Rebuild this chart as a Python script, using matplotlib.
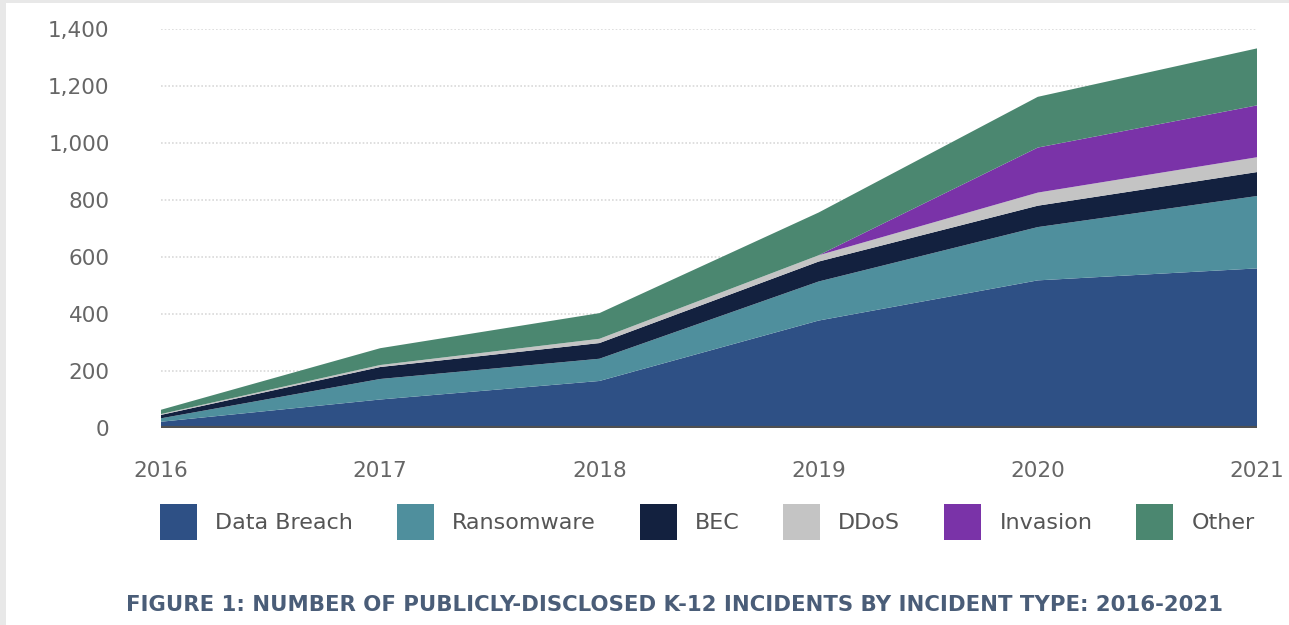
import matplotlib.pyplot as plt
from matplotlib.patches import Rectangle

years = [2016, 2017, 2018, 2019, 2020, 2021]
data_breach = [22, 100, 165, 377, 518, 560]
ransomware = [12, 72, 78, 137, 187, 254]
bec = [12, 42, 55, 70, 75, 84]
ddos = [3, 7, 15, 22, 46, 52]
invasion = [0, 0, 0, 0, 158, 182]
other = [15, 59, 90, 150, 178, 200]

labels = ["Data Breach", "Ransomware", "BEC", "DDoS", "Invasion", "Other"]
colors = ["#2e5085", "#4f8f9d", "#13213f", "#c4c4c4", "#7a33a8", "#4b8770"]
yticks = [0, 200, 400, 600, 800, 1000, 1200, 1400]

W, H = 1289, 625
fig = plt.figure(figsize=(W / 100, H / 100), dpi=100)
ax = fig.add_axes([161 / W, 1 - 428 / H, (1257 - 161) / W, (428 - 29) / H])

# light grey edge on the left and top, as in the source screenshot
fig.patches.append(Rectangle((0, 0), 6 / W, 1, transform=fig.transFigure,
                             facecolor="#e8e8e8", edgecolor="none"))
fig.patches.append(Rectangle((0, 1 - 3 / H), 1, 3 / H, transform=fig.transFigure,
                             facecolor="#e8e8e8", edgecolor="none"))

for y in yticks[1:]:
    ax.axhline(y, color="#d9d9d9", linewidth=1.2, linestyle=(0, (1, 1.2)), zorder=0)

polys = ax.stackplot(years, data_breach, ransomware, bec, ddos, invasion, other,
                     colors=colors, labels=labels, linewidth=0, zorder=2)
ax.axhline(0, color="#505050", linewidth=3, solid_capstyle="round", zorder=3)

ax.set_xlim(2016, 2021)
ax.set_ylim(0, 1400)
ax.set_xticks(years)
ax.set_xticklabels([str(y) for y in years])
ax.set_yticks(yticks)
ax.set_yticklabels([f"{v:,}" for v in yticks])
ax.tick_params(axis="both", length=0, labelsize=15.5, labelcolor="#666666")
ax.tick_params(axis="x", pad=24)
ax.tick_params(axis="y", pad=37)
for s in ax.spines.values():
    s.set_visible(False)

fs = 16
fpx = fs * 100 / 72
leg = fig.legend(polys, labels, loc="center left", bbox_to_anchor=(160 / W, 1 - 522 / H),
                 ncol=6, frameon=False, fontsize=fs, borderpad=0, borderaxespad=0,
                 handlelength=37 / fpx, handleheight=2.1, handletextpad=18 / fpx,
                 columnspacing=44 / fpx)
for t in leg.get_texts():
    t.set_color("#555555")

fig.text(126 / W, 1 - 605 / H,
         "FIGURE 1: NUMBER OF PUBLICLY-DISCLOSED K-12 INCIDENTS BY INCIDENT TYPE: 2016-2021",
         ha="left", va="center", fontsize=15.3, fontweight="bold", color="#4a5d78")

fig.savefig("out.png", dpi=100, facecolor="white")
